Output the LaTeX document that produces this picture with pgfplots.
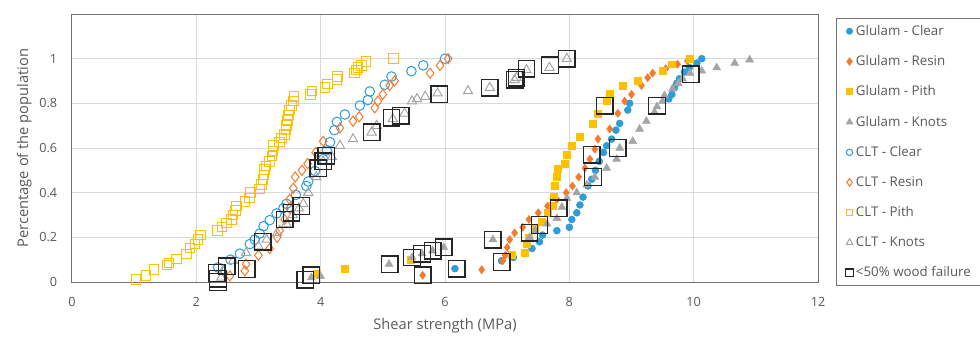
\documentclass[border=0pt]{standalone}
\usepackage{fontspec}
\setmainfont{Open Sans}
\usepackage{pgfplots}
\pgfplotsset{compat=1.18}
\definecolor{cblue}{HTML}{2E9BDA}
\definecolor{corange}{HTML}{F57A2C}
\definecolor{cyellow}{HTML}{FFC000}
\definecolor{cgray}{HTML}{A5A5A5}
\definecolor{tickgray}{HTML}{595959}
\begin{document}
\begin{tikzpicture}
\begin{axis}[name=ax, scale only axis, width=559.5pt, height=201pt,
 xmin=0, xmax=12, ymin=0, ymax=1.2,
 xtick={0,2,...,12}, ytick={0,0.2,0.4,0.6,0.8,1}, yticklabels={0,0.2,0.4,0.6,0.8,1},
 grid=major, grid style={draw=black!15, line width=0.75pt},
 axis line style={draw=black!55, line width=0.75pt},
 major tick length=0pt,
 /pgf/number format/assume math mode=true,
 tick label style={font=\fontsize{9.5}{11}\selectfont, text=tickgray},
 xticklabel style={anchor=center, yshift=-15pt},
 yticklabel style={anchor=east, inner sep=0pt, xshift=-10.9pt},
 xlabel={Shear strength (MPa)}, ylabel={Percentage of the population},
 label style={font=\fontsize{11}{13}\selectfont, text=tickgray},
 xlabel style={at={(axis description cs:0.5,-0.164)}, anchor=center},
 ylabel style={at={(axis description cs:-0.064,0.5)}, anchor=center},
 legend cell align=left,
 legend style={at={(1.0241,0.985)}, anchor=north west, draw=black!55, line width=0.75pt,
   font=\fontsize{10}{12}\selectfont, text=tickgray, row sep=9.6pt, inner xsep=7pt, inner ysep=3pt},
 only marks,
]
% Glulam - Clear
\addplot[mark=*, mark size=2.6pt, draw=cblue, fill=cblue, legend image post style={mark size=2.2pt}] coordinates {
(6.16,0.06)(6.91,0.095)(7.10,0.11)(7.28,0.127)(7.40,0.15)(7.52,0.18)(7.57,0.21)(7.80,0.23)
(8.00,0.245)(8.04,0.28)(8.12,0.31)(8.17,0.345)(8.22,0.38)(8.30,0.43)(8.36,0.46)(8.42,0.50)
(8.48,0.54)(8.55,0.58)(8.60,0.61)(8.68,0.64)(8.75,0.68)(8.81,0.71)(8.94,0.77)(8.97,0.80)
(9.60,0.82)(9.65,0.84)(9.69,0.87)(9.73,0.89)(9.77,0.91)(9.85,0.94)(9.93,0.96)(10.05,0.98)(10.13,1.0)};
\addlegendentry{Glulam - Clear}
% Glulam - Resin
\addplot[mark=diamond*, mark size=3pt, draw=corange, fill=corange, legend image post style={mark size=2.6pt}] coordinates {
(5.64,0.03)(6.59,0.055)(6.93,0.095)(6.97,0.12)(7.00,0.155)(7.04,0.19)(7.12,0.22)(7.25,0.245)
(7.35,0.28)(7.50,0.31)(7.65,0.34)(7.80,0.37)(7.95,0.40)(8.05,0.43)(8.15,0.47)(8.25,0.51)
(8.33,0.55)(8.41,0.595)(8.46,0.64)(8.65,0.685)(8.78,0.755)(8.89,0.81)(9.00,0.84)(9.16,0.88)
(9.26,0.915)(9.34,0.935)(9.55,0.955)(9.74,0.975)(9.90,0.99)};
\addlegendentry{Glulam - Resin}
% Glulam - Pith
\addplot[mark=square*, mark size=2.6pt, draw=cyellow, fill=cyellow, legend image post style={mark size=2.2pt}] coordinates {
(3.93,0.035)(4.39,0.06)(5.45,0.10)(7.07,0.12)(7.28,0.13)(7.31,0.17)(7.35,0.20)(7.45,0.24)
(7.55,0.27)(7.65,0.31)(7.73,0.34)(7.75,0.38)(7.77,0.43)(7.80,0.47)(7.81,0.505)(7.92,0.53)
(7.96,0.57)(8.04,0.61)(8.17,0.65)(8.38,0.71)(8.46,0.755)(8.60,0.81)(8.65,0.845)(8.86,0.88)
(9.10,0.90)(9.50,0.945)(9.65,0.975)(9.94,1.0)};
\addlegendentry{Glulam - Pith}
% Glulam - Knots
\addplot[mark=triangle*, mark size=3.4pt, draw=cgray, fill=cgray, legend image post style={mark size=2.6pt}] coordinates {
(3.85,0.02)(4.00,0.025)(5.10,0.08)(5.47,0.11)(5.63,0.127)(5.80,0.14)(5.98,0.155)(6.77,0.19)
(7.36,0.20)(7.45,0.23)(7.64,0.26)(7.80,0.285)(7.88,0.335)(7.96,0.375)(8.12,0.40)(8.28,0.435)
(8.41,0.47)(8.60,0.51)(8.76,0.55)(8.81,0.60)(9.02,0.63)(9.13,0.685)(9.24,0.72)(9.37,0.76)
(9.41,0.785)(9.50,0.81)(9.53,0.835)(9.66,0.865)(9.75,0.89)(9.82,0.91)(9.94,0.935)(10.13,0.945)
(10.37,0.96)(10.66,0.98)(10.90,0.995)};
\addlegendentry{Glulam - Knots}
% CLT - Clear
\addplot[mark=o, mark size=3.6pt, draw=cblue, line width=0.75pt, legend image post style={mark size=2.4pt}] coordinates {
(2.35,0.065)(2.55,0.10)(2.70,0.127)(2.86,0.17)(2.94,0.19)(3.02,0.217)(3.08,0.25)(3.18,0.277)
(3.29,0.307)(3.40,0.33)(3.45,0.35)(3.60,0.39)(3.77,0.43)(3.80,0.45)(3.91,0.497)(4.04,0.55)
(4.10,0.59)(4.15,0.626)(4.22,0.68)(4.26,0.717)(4.39,0.75)(4.63,0.79)(4.76,0.815)(4.79,0.853)
(5.03,0.883)(5.14,0.92)(5.46,0.944)(5.65,0.97)(6.00,1.0)};
\addlegendentry{CLT - Clear}
% CLT - Resin
\addplot[mark=diamond, mark size=3.8pt, draw=corange, line width=0.75pt, legend image post style={mark size=2.8pt}] coordinates {
(2.54,0.027)(2.78,0.05)(2.80,0.08)(3.00,0.12)(3.18,0.15)(3.30,0.20)(3.34,0.23)(3.42,0.28)
(3.50,0.33)(3.50,0.37)(3.56,0.42)(3.59,0.47)(3.70,0.50)(3.79,0.53)(3.92,0.58)(4.04,0.63)
(4.31,0.69)(4.52,0.72)(4.62,0.74)(4.87,0.78)(4.92,0.81)(5.00,0.84)(5.11,0.88)(5.19,0.90)
(5.76,0.935)(5.92,0.97)(6.05,1.0)};
\addlegendentry{CLT - Resin}
% CLT - Pith
\addplot[mark=square, mark size=3.6pt, draw=cyellow, line width=0.75pt, legend image post style={mark size=2.4pt}] coordinates {
(1.03,0.01)(1.19,0.03)(1.32,0.056)(1.53,0.076)(1.56,0.085)(1.68,0.103)(1.84,0.126)(1.90,0.153)
(1.98,0.171)(2.03,0.19)(2.07,0.21)(2.34,0.23)(2.41,0.247)(2.49,0.265)(2.57,0.28)(2.59,0.30)
(2.63,0.32)(2.65,0.34)(2.78,0.36)(2.86,0.376)(2.87,0.40)(3.02,0.417)(3.05,0.436)(3.07,0.46)
(3.09,0.48)(3.10,0.505)(3.12,0.52)(3.18,0.54)(3.22,0.565)(3.23,0.587)(3.24,0.61)(3.34,0.626)
(3.37,0.644)(3.42,0.66)(3.44,0.683)(3.45,0.70)(3.47,0.724)(3.48,0.747)(3.50,0.77)(3.53,0.79)
(3.56,0.81)(3.57,0.83)(3.84,0.84)(3.86,0.856)(4.07,0.87)(4.11,0.886)(4.26,0.906)(4.27,0.92)
(4.54,0.936)(4.58,0.95)(4.60,0.96)(4.66,0.97)(4.73,0.986)(5.17,1.0)};
\addlegendentry{CLT - Pith}
% CLT - Knots
\addplot[mark=triangle, mark size=4pt, draw=cgray, line width=0.75pt, legend image post style={mark size=2.8pt}] coordinates {
(2.40,0.02)(2.43,0.05)(2.59,0.095)(2.80,0.13)(3.00,0.16)(3.13,0.19)(3.30,0.22)(3.45,0.26)
(3.55,0.30)(3.65,0.33)(3.72,0.35)(3.80,0.40)(3.93,0.47)(4.04,0.54)(4.18,0.56)(4.31,0.61)
(4.52,0.64)(4.82,0.67)(4.90,0.70)(5.16,0.73)(5.35,0.755)(5.47,0.81)(5.55,0.82)(5.68,0.83)
(5.88,0.845)(6.37,0.855)(6.72,0.87)(7.12,0.905)(7.15,0.915)(7.31,0.95)(7.68,0.96)(7.96,1.0)};
\addlegendentry{CLT - Knots}
% <50% wood failure
\addplot[mark=square, mark size=6.2pt, draw=black!85, line width=1pt, legend image post style={mark size=2.8pt}] coordinates {
(2.33,0.04)(2.35,0.015)(2.35,0.0)(2.49,0.07)(2.81,0.058)(3.07,0.18)(3.42,0.28)(3.53,0.31)
(3.69,0.34)(3.75,0.01)(3.85,0.03)(3.96,0.51)(4.04,0.54)(4.09,0.565)(4.82,0.67)(5.14,0.735)
(5.29,0.745)(5.91,0.84)(6.72,0.87)(7.12,0.905)(7.15,0.915)(7.31,0.955)(7.69,0.97)(7.96,1.0)
(5.11,0.08)(5.47,0.11)(5.63,0.127)(5.80,0.14)(5.98,0.155)(5.64,0.03)(6.19,0.06)(6.77,0.19)
(6.91,0.09)(7.36,0.22)(7.52,0.255)(7.83,0.33)(8.38,0.47)(8.36,0.57)(8.57,0.79)(8.78,0.60)
(9.41,0.79)(9.95,0.93)};
\addlegendentry{\makebox[100pt][l]{<50\% wood failure}}
\end{axis}
\pgfresetboundingbox
\path (ax.south west) ++(-54pt,-40.5pt) rectangle ++(735pt,252pt);
\end{tikzpicture}
\end{document}
